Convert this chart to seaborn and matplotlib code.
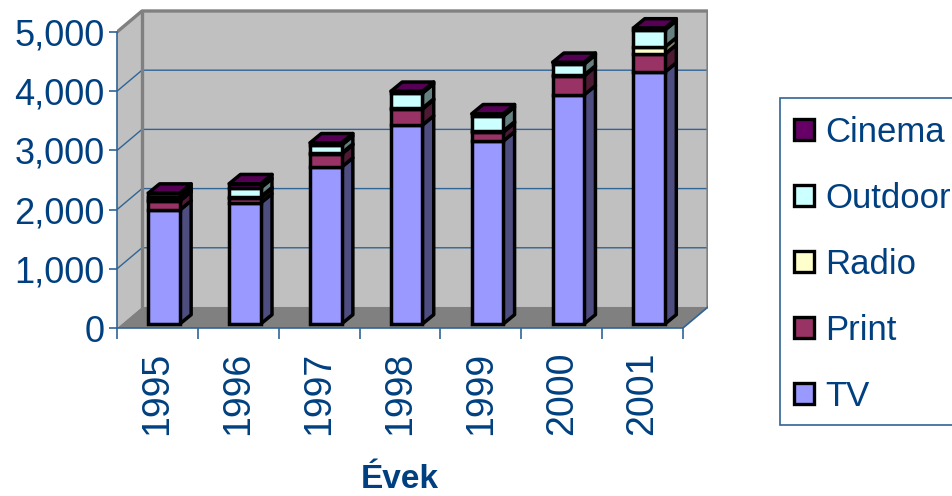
#!/usr/bin/env python3

import numpy as np
import matplotlib
matplotlib.use('Agg')
import matplotlib.pyplot as plt
from matplotlib.patches import Patch, Rectangle
import seaborn as sns

# Chart data
years = [1995, 1996, 1997, 1998, 1999, 2000, 2001]
tv = [1925, 2044, 2650, 3360, 3090, 3870, 4257]
press = [153, 85, 220, 270, 150, 320, 303]
radio = [12, 20, 15, 15, 20, 15, 120]
outdoor = [55, 150, 135, 255, 250, 185, 286]
cinema = [65, 70, 40, 30, 40, 30, 34]
series_names = ['TV', 'Print', 'Radio', 'Outdoor', 'Cinema']
y_ticks = [0, 1000, 2000, 3000, 4000, 5000]

front_colors = ['#9999FF', '#993366', '#FFFFCC', '#CCFFFF', '#660066']
side_colors = ['#4D4D80', '#4D1A33', '#808066', '#668080', '#330033']
blue = '#004080'
line_blue = '#2F6496'

# Fake 3D depth, in data units
wall_dx, wall_dy = 0.309, 355
bar_dx, bar_dy = 0.14, 157
bar_shift_x, bar_shift_y = 0.082, 68
bar_width = 0.39
edge_lw = 2.5

sns.set_theme(style='white')
plt.rcParams['font.family'] = ['Liberation Sans', 'DejaVu Sans']

fig = plt.figure(figsize=(9.53, 4.96), dpi=100)
ax = fig.add_axes([117 / 953, (496 - 328) / 496, 591 / 953, 5400 * 0.0592 / 496])

x0, x1 = years[0] - 0.5, years[-1] + 0.5
top = y_ticks[-1]

# Walls and floor
ax.fill([x0, x0 + wall_dx, x0 + wall_dx, x0], [0, wall_dy, top + wall_dy, top],
        color='#C0C0C0', lw=0, zorder=1)
ax.fill([x0 + wall_dx, x1 + wall_dx, x1 + wall_dx, x0 + wall_dx],
        [wall_dy, wall_dy, top + wall_dy, top + wall_dy], color='#C0C0C0', lw=0, zorder=1)
ax.fill([x0, x1, x1 + wall_dx, x0 + wall_dx], [0, 0, wall_dy, wall_dy],
        color='#808080', lw=0, zorder=1)

# Gridlines run along the side wall and the back wall
for v in y_ticks[1:-1]:
    ax.plot([x0, x0 + wall_dx, x1 + wall_dx], [v, v + wall_dy, v + wall_dy],
            color=line_blue, lw=1, zorder=2)

# Wall border
ax.plot([x0 + wall_dx, x0 + wall_dx], [wall_dy, top + wall_dy], color='#808080', lw=2.4, zorder=2)
ax.plot([x0, x0 + wall_dx, x1 + wall_dx, x1 + wall_dx],
        [top, top + wall_dy, top + wall_dy, wall_dy],
        color='#808080', lw=2.4, zorder=2, solid_joinstyle='round')
ax.plot([x1, x1 + wall_dx], [0, wall_dy], color=line_blue, lw=1.2, zorder=2)

# Stacked bars, front faces through seaborn and depth faces on top of the same numbers
values = np.array([tv, press, radio, outdoor, cinema], dtype=float)
bottoms = np.vstack([np.zeros(len(years)), np.cumsum(values, axis=0)[:-1]]) + bar_shift_y
bar_x = np.array(years) + bar_shift_x

for k, name in enumerate(series_names):
    sns.barplot(x=bar_x, y=values[k], bottom=bottoms[k], native_scale=True, ax=ax,
                color=front_colors[k], saturation=1, width=bar_width, errorbar=None,
                edgecolor='black', linewidth=edge_lw, zorder=5, legend=False)
    for i in range(len(years)):
        xr = bar_x[i] + bar_width / 2
        lo, hi = bottoms[k][i], bottoms[k][i] + values[k][i]
        ax.fill([xr, xr + bar_dx, xr + bar_dx, xr],
                [lo, lo + bar_dy, hi + bar_dy, hi],
                facecolor=side_colors[k], edgecolor='black', lw=edge_lw, zorder=4,
                joinstyle='round')

# Top faces
totals = bottoms[-1] + values[-1]
for i in range(len(years)):
    xl, xr = bar_x[i] - bar_width / 2, bar_x[i] + bar_width / 2
    ax.fill([xl, xr, xr + bar_dx, xl + bar_dx],
            [totals[i], totals[i], totals[i] + bar_dy, totals[i] + bar_dy],
            facecolor='#550055', edgecolor='black', lw=edge_lw, zorder=4, joinstyle='round')

# Axes
ax.set_xlim(x0, x0 + 591 / 80.86)
ax.set_ylim(0, 5400)
ax.grid(False)
ax.patch.set_alpha(0)
for side in ['top', 'right']:
    ax.spines[side].set_visible(False)
for side in ['left', 'bottom']:
    ax.spines[side].set_color(line_blue)
    ax.spines[side].set_linewidth(1.2)
ax.spines['left'].set_bounds(0, top)
ax.spines['bottom'].set_bounds(x0, x1)

ax.set_yticks(y_ticks)
ax.set_yticklabels([f'{v:,}' for v in y_ticks])
ax.tick_params(axis='y', left=True, length=6, width=1.2, color=line_blue, labelcolor=blue,
               labelsize=26, pad=3)
ax.set_xticks(years)
ax.set_xticks(np.arange(x0, x1 + 1), minor=True)
ax.set_xticklabels([str(y) for y in years], rotation=90)
ax.tick_params(axis='x', which='major', bottom=False, length=0, labelcolor=blue,
               labelsize=27, pad=17)
ax.tick_params(axis='x', which='minor', bottom=True, length=8, width=1.2, color=line_blue)
ax.set_xlabel('')
ax.set_ylabel('')

fig.text(400 / 953, 1 - 480 / 496, 'Évek', color=blue, fontsize=24, fontweight='bold',
         ha='center', va='center')

# Legend box runs off the right edge of the picture, so it is drawn apart from the entries
fig.add_artist(Rectangle((780 / 953, 1 - 425 / 496), 200 / 953, 327 / 496,
                         transform=fig.transFigure, facecolor='white',
                         edgecolor=line_blue, lw=1.2))
handles = [Patch(facecolor=front_colors[k], edgecolor='black', linewidth=2.4, label=series_names[k])
           for k in reversed(range(len(series_names)))]
fig.legend(handles=handles, loc='upper left', bbox_to_anchor=(794 / 953, 1 - 116 / 496),
           borderaxespad=0, fontsize=25, labelcolor=blue, frameon=False,
           handlelength=0.57, handleheight=0.57, handletextpad=0.33,
           labelspacing=0.95, borderpad=0)

fig.savefig('out.png', dpi=100)
